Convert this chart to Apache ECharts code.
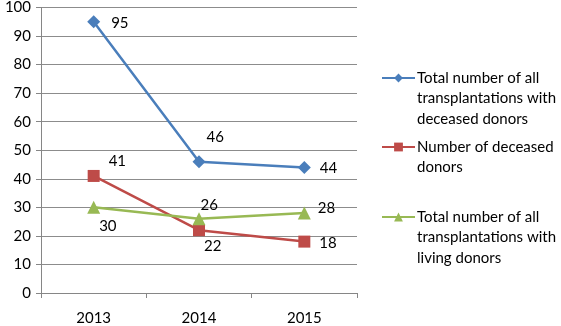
<!DOCTYPE html>
<html>
<head>
<meta charset="utf-8">
<script src="https://cdn.jsdelivr.net/npm/echarts@6/dist/echarts.min.js"></script>
<style>
  html, body { margin: 0; padding: 0; background: #fff; }
  #chart { width: 561px; height: 326px; }
</style>
</head>
<body>
<div id="chart"></div>
<script>
let years = ['2013', '2014', '2015'];
let totalDeceased = [95, 46, 44];
let deceasedDonors = [41, 22, 18];
let totalLiving = [30, 26, 28];

let names = [
  'Total number of all\ntransplantations with\ndeceased donors',
  'Number of deceased\ndonors',
  'Total number of all\ntransplantations with\nliving donors'
];

// label offsets per point (relative to position 'right')
let offBlue = [[-1, 1], [-11, -25], [-3, 1]];
let offRed = [[-3, -15], [-13, 16], [-3, 2]];
let offGreen = [[-13, 19], [-17, -14], [-5, -5]];

let font = 'Lato, Carlito, sans-serif';
let LH = 20.5;

function mk(vals, offs) {
  return vals.map((v, i) => ({
    value: v,
    label: { offset: offs[i] }
  }));
}

let chart = echarts.init(document.getElementById('chart'));

// icon is centred on the text, so put (lines-1) blank lines above it
// to make the icon sit on the first visible line
function legendAt(name, firstLineY) {
  let n = name.split('\n').length;
  let blank = '\n'.repeat(n - 1);
  return {
    orient: 'vertical',
    left: 376,
    top: firstLineY - 5 - (n - 1) * LH - LH / 2,
    data: [name],
    formatter: (nm) => blank + nm,
    itemWidth: 33,
    itemHeight: 11,
    selectedMode: false,
    textStyle: { fontFamily: font, fontSize: 15, color: '#000', lineHeight: LH, padding: [0, 0, 0, -3] }
  };
}

chart.setOption({
  animation: false,
  grid: { left: 41, right: 204, top: 7, bottom: 33 },
  legend: [
    legendAt(names[0], 78),
    legendAt(names[1], 147),
    legendAt(names[2], 217)
  ],
  xAxis: {
    type: 'category',
    data: years,
    boundaryGap: true,
    axisLine: { lineStyle: { color: '#868686', width: 1 } },
    axisTick: { show: true, length: 5, lineStyle: { color: '#868686' } },
    axisLabel: { fontFamily: font, fontSize: 15, color: '#000', margin: 18 }
  },
  yAxis: {
    type: 'value',
    min: 0,
    max: 100,
    interval: 10,
    axisLine: { show: true, lineStyle: { color: '#868686', width: 1 } },
    axisTick: { show: true, length: 5, lineStyle: { color: '#868686' } },
    splitLine: { lineStyle: { color: '#8c8c8c', width: 1 } },
    axisLabel: { fontFamily: font, fontSize: 15, color: '#000', margin: 10 }
  },
  series: [
    {
      name: names[0],
      type: 'line',
      data: mk(totalDeceased, offBlue),
      symbol: 'diamond',
      symbolSize: 13,
      itemStyle: { color: '#4a7ebb' },
      lineStyle: { width: 2.5, color: '#4a7ebb' },
      label: { show: true, position: 'right', distance: 12, fontFamily: font, fontSize: 15, color: '#000' }
    },
    {
      name: names[1],
      type: 'line',
      data: mk(deceasedDonors, offRed),
      symbol: 'rect',
      symbolSize: 12,
      itemStyle: { color: '#be4b48' },
      lineStyle: { width: 2.5, color: '#be4b48' },
      label: { show: true, position: 'right', distance: 12, fontFamily: font, fontSize: 15, color: '#000' }
    },
    {
      name: names[2],
      type: 'line',
      data: mk(totalLiving, offGreen),
      symbol: 'triangle',
      symbolSize: 13,
      itemStyle: { color: '#98b954' },
      lineStyle: { width: 2.5, color: '#98b954' },
      label: { show: true, position: 'right', distance: 12, fontFamily: font, fontSize: 15, color: '#000' }
    }
  ]
});
</script>
</body>
</html>
